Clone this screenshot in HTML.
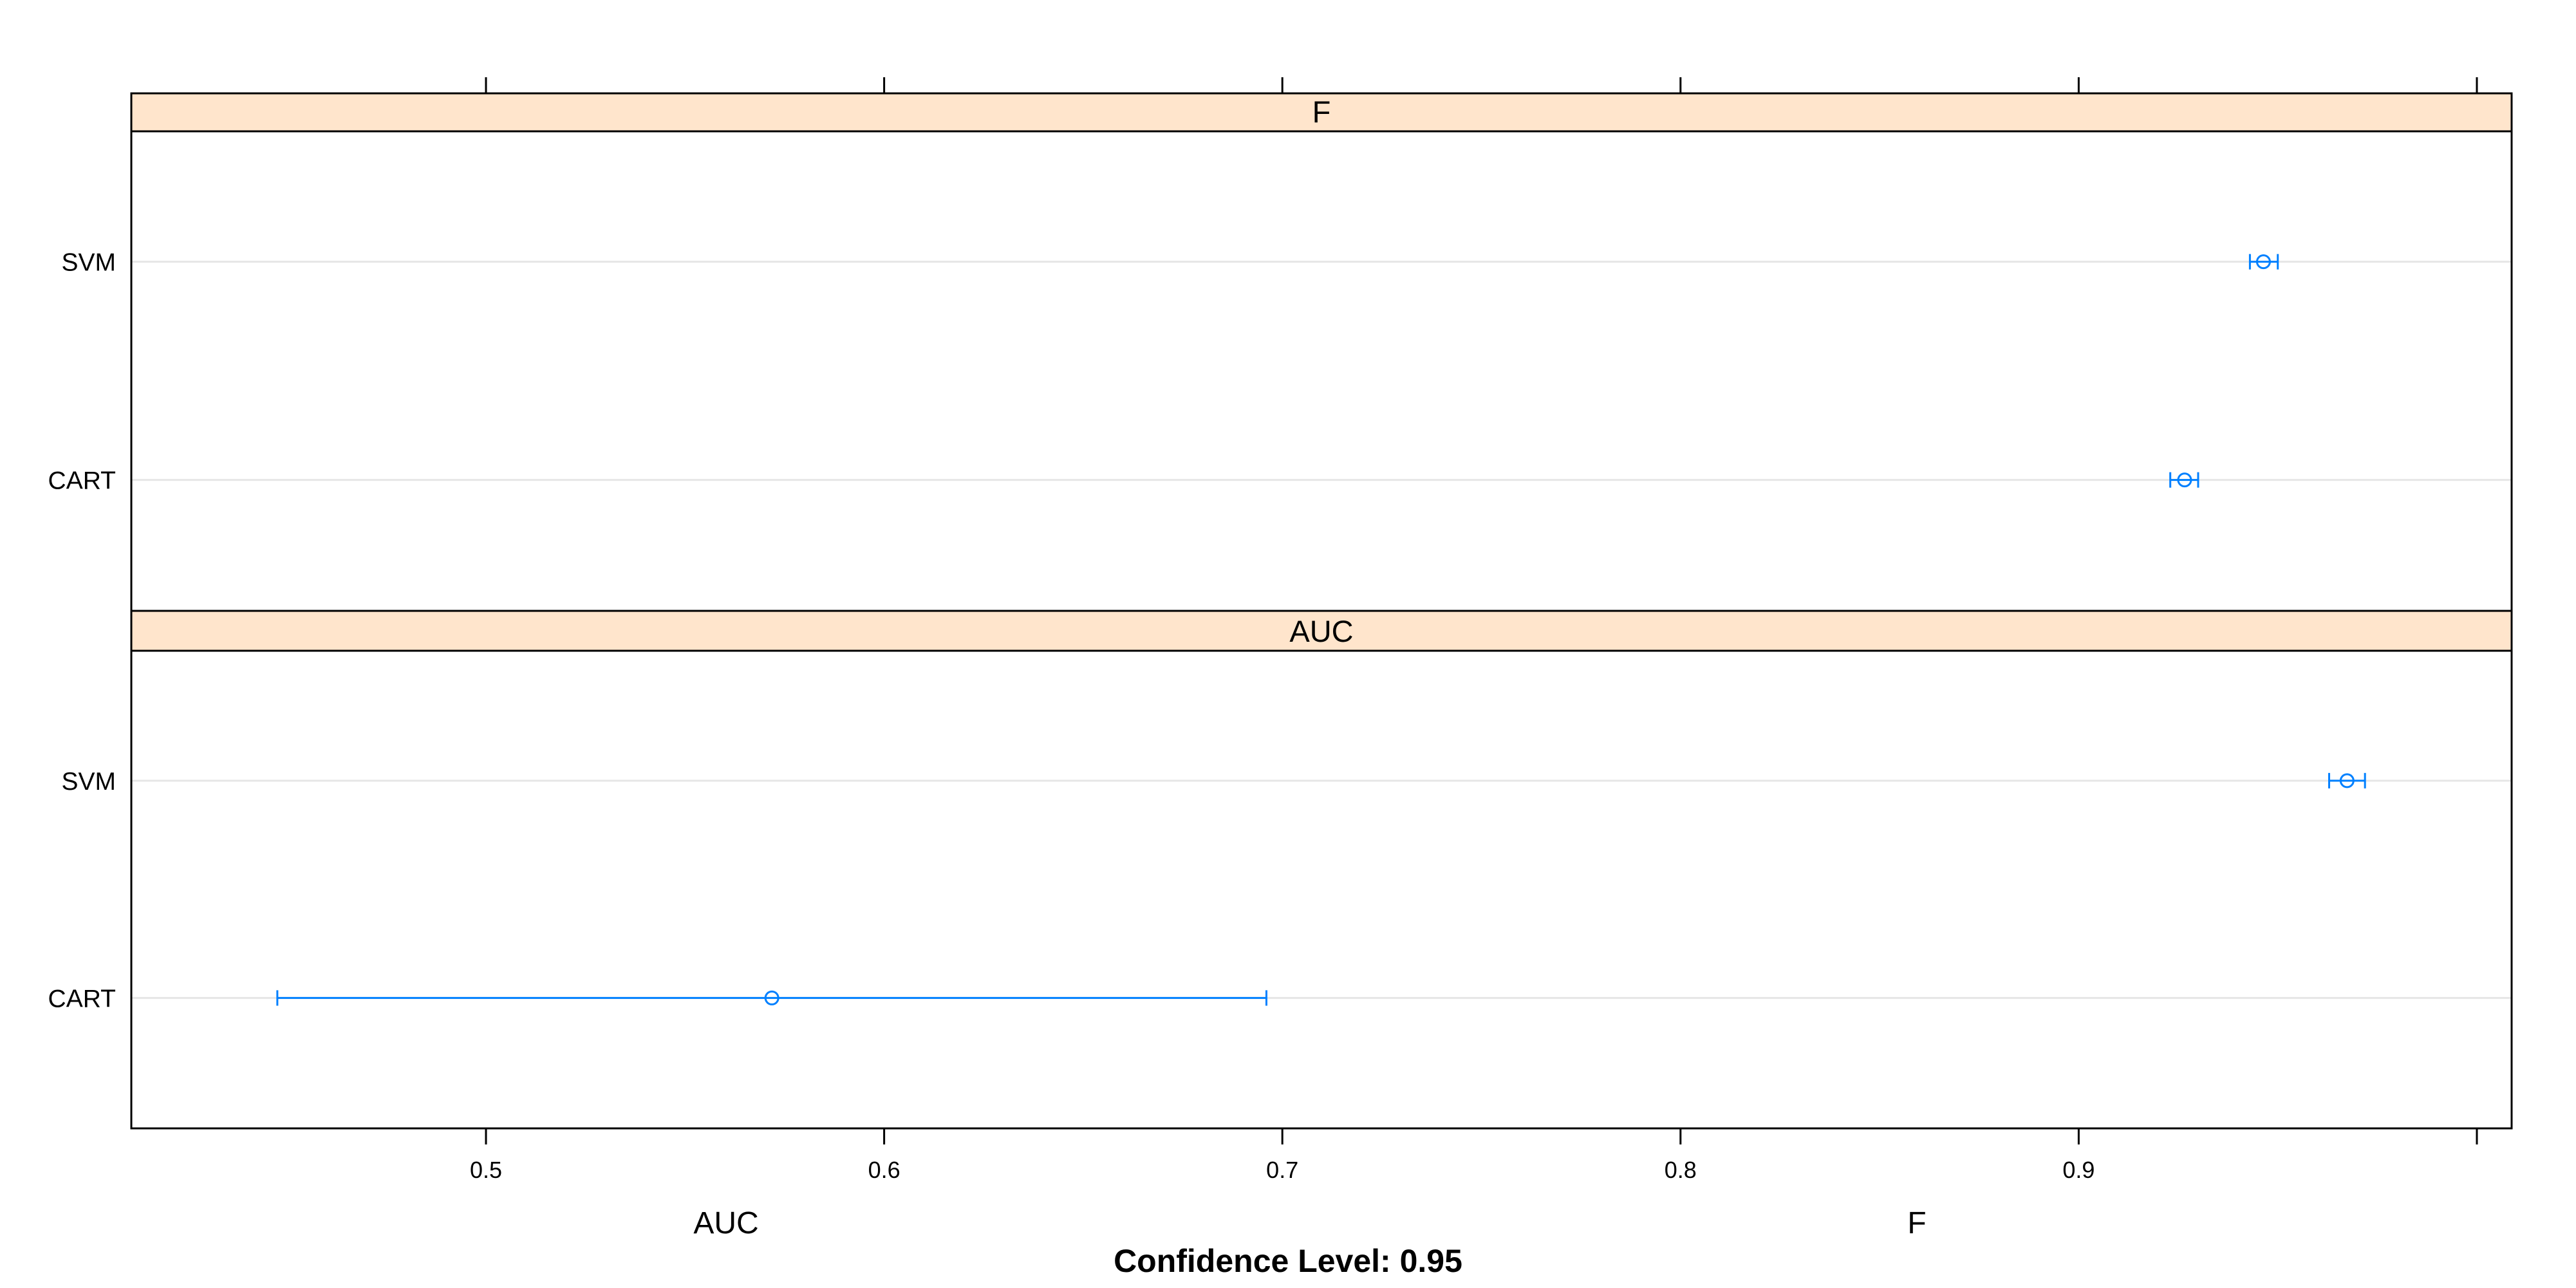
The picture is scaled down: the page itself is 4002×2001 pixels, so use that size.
<!DOCTYPE html>
<html><head><meta charset="utf-8"><style>body{margin:0;background:#fff}svg{display:block}text{font-family:"Liberation Sans",sans-serif}</style></head>
<body>
<svg id="chart" width="4002" height="2001" viewBox="0 0 4002 2001" xmlns="http://www.w3.org/2000/svg"></svg>
<script>
const panels = ["F", "AUC"];
const models = ["CART", "SVM"];
const estF = [0.9266, 0.9464];
const lowF = [0.923, 0.943];
const highF = [0.930, 0.950];
const estAUC = [0.5718, 0.9674];
const lowAUC = [0.4476, 0.9629];
const highAUC = [0.6960, 0.9719];
const ticks = [0.5, 0.6, 0.7, 0.8, 0.9, 1.0];
const tickLabels = ["0.5", "0.6", "0.7", "0.8", "0.9", ""];

const NS = "http://www.w3.org/2000/svg";
const svg = document.getElementById("chart");
const L = 204, R = 3902;
function x(v){ return 755 + (v - 0.5) * 6186; }
function mk(tag, attrs, parent){
  const e = document.createElementNS(NS, tag);
  for (const k in attrs) e.setAttribute(k, attrs[k]);
  (parent || svg).appendChild(e);
  return e;
}
const geo = [[145, 204, 949], [949, 1011, 1753]];
const data = [[estF, lowF, highF], [estAUC, lowAUC, highAUC]];
panels.forEach((p, pi) => {
  const [st, sb, pb] = geo[pi];
  const g = mk("g", {});
  
  
  const strip = mk("rect", {x: L, y: st, width: R - L, height: sb - st, fill: "#ffe5cc", stroke: "#000", "stroke-width": 3}, g);
  
  
  const stxt = mk("text", {x: (L + R) / 2, y: sb - 14, "font-size": 47, "text-anchor": "middle"}, g);
  stxt.textContent = p;
  
  
  const h = pb - sb;
  models.forEach((m, i) => {
    const yy = pb - (i === 0 ? 0.273 : 0.728) * h;
    const gl = mk("line", {x1: L, x2: R, y1: yy, y2: yy, stroke: "#e6e6e6", "stroke-width": 3}, g);
    
    
    const lab = mk("text", {x: 180, y: yy + 14, "font-size": 39, "text-anchor": "end"}, g);
    lab.textContent = m;
    
    
    const [est, lo, hi] = data[pi];
    const eg = mk("g", {stroke: "#0080ff", "stroke-width": 3, fill: "none"}, g);
    
    
    mk("line", {x1: x(lo[i]), x2: x(hi[i]), y1: yy, y2: yy}, eg);
    mk("line", {x1: x(lo[i]), x2: x(lo[i]), y1: yy - 12, y2: yy + 12}, eg);
    mk("line", {x1: x(hi[i]), x2: x(hi[i]), y1: yy - 12, y2: yy + 12}, eg);
    const c = mk("circle", {cx: x(est[i]), cy: yy, r: 10}, eg);
    
    
  });
  const frame = mk("rect", {x: L, y: sb, width: R - L, height: pb - sb, fill: "none", stroke: "#000", "stroke-width": 3}, g);
  
  
});
ticks.forEach((t, i) => {
  const tt = mk("line", {x1: x(t), x2: x(t), y1: 120, y2: 145, stroke: "#000", "stroke-width": 3});
  
  
  const bt = mk("line", {x1: x(t), x2: x(t), y1: 1753, y2: 1778, stroke: "#000", "stroke-width": 3});
  
  
  const tl = mk("text", {x: x(t), y: 1830, "font-size": 36, "text-anchor": "middle"});
  tl.textContent = tickLabels[i];
  
  
});
</script>
<svg style="position:absolute;left:0;top:0" width="4002" height="2001">
<text x="1128" y="1916" font-size="48" text-anchor="middle">AUC</text>
<text x="2978" y="1916" font-size="48" text-anchor="middle">F</text>
<text x="2001" y="1976" font-size="50" font-weight="bold" text-anchor="middle">Confidence Level: 0.95</text>
</svg>
</body></html>
